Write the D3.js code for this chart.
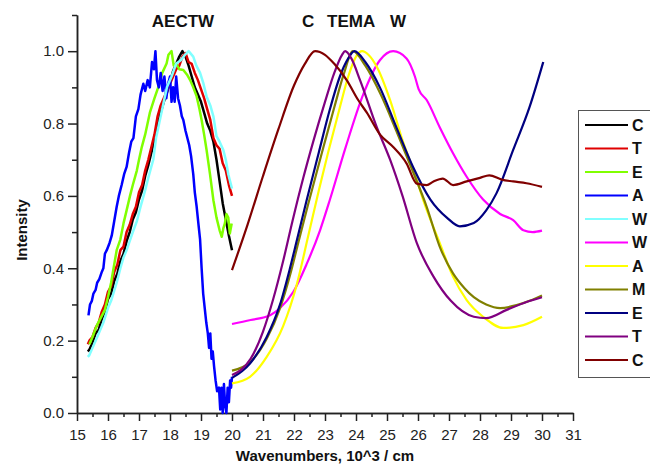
<!DOCTYPE html>
<html>
<head>
<meta charset="utf-8">
<script src="https://cdn.jsdelivr.net/npm/d3@7"></script>
<style>
  body { margin: 0; background: #fff; }
  svg { font-family: "Liberation Sans", Arial, sans-serif; }
</style>
</head>
<body>
<div id="chart"></div>
<script>
// legend order = draw order
const seriesNames = ['C', 'T', 'E', 'A', 'W', 'W', 'A', 'M', 'E', 'T', 'C'];
const seriesColors = ['#000000', '#e00000', '#80ff00', '#0000ff', '#80ffff',
  '#ff00ff', '#ffff00', '#808000', '#000080', '#800080', '#800000'];

const xMajor = [15, 16, 17, 18, 19, 20, 21, 22, 23, 24, 25, 26, 27, 28, 29, 30, 31];
const xMinor = [15.5, 16.5, 17.5, 18.5, 19.5, 20.5, 21.5, 22.5, 23.5, 24.5, 25.5, 26.5, 27.5, 28.5, 29.5, 30.5];
const yMajor = [0, 0.2, 0.4, 0.6, 0.8, 1.0];
const yMinor = [0.1, 0.3, 0.5, 0.7, 0.9, 1.1];

// left band (AECTW), wavenumber / intensity
const cLeft = [[15.35,0.17],[15.4,0.175],[15.5,0.195],[15.6,0.22],[15.7,0.23],[15.8,0.26],[15.9,0.28],[16.0,0.315],[16.1,0.33],[16.2,0.365],[16.3,0.385],[16.4,0.42],[16.5,0.44],[16.6,0.475],[16.7,0.50],[16.8,0.535],[16.9,0.555],[17.0,0.59],[17.1,0.615],[17.2,0.655],[17.3,0.685],[17.4,0.72],[17.5,0.755],[17.6,0.795],[17.7,0.83],[17.8,0.86],[17.9,0.885],[18.0,0.915],[18.1,0.945],[18.2,0.965],[18.3,0.985],[18.4,1.0],[18.5,0.985],[18.6,0.96],[18.7,0.93],[18.8,0.90],[18.9,0.88],[19.0,0.86],[19.1,0.83],[19.2,0.80],[19.3,0.78],[19.4,0.75],[19.5,0.70],[19.6,0.64],[19.7,0.58],[19.8,0.535],[19.9,0.49],[20.0,0.45]];
const tLeft = [[15.35,0.19],[15.4,0.20],[15.5,0.21],[15.6,0.235],[15.7,0.25],[15.8,0.28],[15.9,0.30],[16.0,0.335],[16.1,0.35],[16.2,0.39],[16.3,0.41],[16.4,0.45],[16.5,0.46],[16.6,0.50],[16.7,0.52],[16.8,0.55],[16.9,0.57],[17.0,0.61],[17.1,0.63],[17.2,0.67],[17.3,0.70],[17.4,0.735],[17.5,0.77],[17.6,0.82],[17.7,0.85],[17.8,0.87],[17.9,0.89],[18.0,0.91],[18.1,0.93],[18.2,0.95],[18.3,0.96],[18.4,0.985],[18.5,0.995],[18.6,0.97],[18.7,0.965],[18.8,0.94],[18.9,0.92],[19.0,0.895],[19.1,0.87],[19.2,0.84],[19.3,0.81],[19.4,0.76],[19.5,0.74],[19.6,0.73],[19.7,0.69],[19.8,0.67],[19.9,0.63],[20.0,0.60]];
const eLeft = [[15.4,0.19],[15.5,0.21],[15.63,0.24],[15.75,0.26],[15.9,0.285],[16.0,0.32],[16.1,0.36],[16.17,0.395],[16.28,0.45],[16.4,0.48],[16.5,0.524],[16.6,0.56],[16.71,0.60],[16.8,0.63],[16.93,0.67],[17.0,0.70],[17.09,0.735],[17.2,0.77],[17.35,0.83],[17.5,0.87],[17.62,0.90],[17.75,0.94],[17.89,0.966],[17.95,0.99],[18.05,1.0],[18.12,0.96],[18.2,0.966],[18.3,0.95],[18.43,0.948],[18.55,0.935],[18.65,0.92],[18.75,0.90],[18.86,0.875],[18.95,0.84],[19.02,0.81],[19.1,0.77],[19.18,0.727],[19.29,0.66],[19.4,0.588],[19.5,0.54],[19.6,0.505],[19.67,0.487],[19.72,0.51],[19.77,0.524],[19.82,0.55],[19.88,0.54],[19.93,0.496],[19.99,0.524]];
const aLeft = [[15.37,0.27],[15.42,0.30],[15.48,0.31],[15.53,0.33],[15.6,0.34],[15.65,0.36],[15.72,0.37],[15.8,0.39],[15.85,0.40],[15.9,0.44],[15.96,0.45],[16.05,0.47],[16.12,0.49],[16.2,0.53],[16.28,0.57],[16.35,0.60],[16.44,0.63],[16.52,0.66],[16.6,0.68],[16.68,0.72],[16.75,0.75],[16.82,0.76],[16.9,0.82],[16.98,0.84],[17.05,0.88],[17.14,0.91],[17.2,0.89],[17.28,0.92],[17.35,0.90],[17.42,0.97],[17.48,0.95],[17.53,1.0],[17.58,0.92],[17.64,0.90],[17.7,0.94],[17.76,0.89],[17.82,0.93],[17.88,0.87],[17.94,0.91],[18.0,0.93],[18.05,0.86],[18.1,0.90],[18.15,0.86],[18.2,0.93],[18.26,0.87],[18.32,0.85],[18.38,0.82],[18.43,0.81],[18.5,0.78],[18.56,0.76],[18.62,0.74],[18.68,0.71],[18.75,0.66],[18.8,0.61],[18.86,0.57],[18.92,0.52],[18.97,0.48],[19.02,0.40],[19.07,0.33],[19.12,0.29],[19.17,0.25],[19.22,0.22],[19.26,0.18],[19.3,0.22],[19.34,0.15],[19.38,0.17],[19.42,0.13],[19.47,0.09],[19.52,0.06],[19.58,0.07],[19.62,0.01],[19.66,0.07],[19.7,0.0],[19.74,0.08],[19.78,0.02],[19.82,0.0],[19.86,0.07],[19.9,0.03],[19.94,0.09],[19.97,0.07],[20.0,0.10]];
const wLeft = [[15.35,0.155],[15.4,0.16],[15.5,0.18],[15.6,0.20],[15.7,0.22],[15.85,0.25],[16.0,0.29],[16.1,0.31],[16.28,0.36],[16.4,0.40],[16.5,0.43],[16.6,0.45],[16.8,0.50],[16.93,0.53],[17.05,0.57],[17.2,0.616],[17.3,0.65],[17.46,0.70],[17.55,0.76],[17.65,0.80],[17.8,0.86],[17.9,0.90],[18.05,0.93],[18.2,0.966],[18.35,0.975],[18.48,0.99],[18.6,1.0],[18.75,0.985],[18.85,0.96],[18.97,0.94],[19.08,0.91],[19.18,0.875],[19.3,0.85],[19.4,0.82],[19.5,0.765],[19.6,0.75],[19.72,0.727],[19.8,0.70],[19.88,0.66],[20.0,0.62]];

// right band (C TEMA W)
const wRight = [[20.0,0.246],[20.6,0.257],[21.23,0.27],[21.55,0.29],[21.98,0.335],[22.4,0.41],[22.84,0.505],[23.16,0.59],[23.65,0.73],[24.23,0.88],[24.77,0.975],[25.2,1.0],[25.63,0.98],[25.9,0.93],[26.02,0.895],[26.28,0.865],[26.7,0.79],[27.13,0.718],[27.57,0.653],[28.1,0.59],[28.65,0.55],[29.07,0.533],[29.4,0.505],[29.7,0.50],[30.0,0.504]];
const aRight = [[20.0,0.082],[20.58,0.10],[21.12,0.155],[21.65,0.24],[22.09,0.355],[22.46,0.49],[22.8,0.615],[23.1,0.72],[23.48,0.845],[23.75,0.93],[24.0,0.985],[24.2,1.0],[24.4,0.99],[24.67,0.957],[25.1,0.865],[25.5,0.754],[25.96,0.644],[26.17,0.588],[26.7,0.47],[27.13,0.377],[27.57,0.312],[28.1,0.266],[28.75,0.235],[29.4,0.243],[30.0,0.266]];
const mRight = [[20.0,0.117],[20.58,0.14],[21.12,0.205],[21.55,0.29],[21.9,0.39],[22.15,0.475],[22.45,0.575],[22.95,0.735],[23.3,0.845],[23.6,0.935],[23.9,1.0],[24.3,0.96],[24.8,0.88],[25.3,0.78],[25.8,0.675],[26.28,0.57],[26.7,0.46],[27.13,0.386],[27.5,0.345],[27.8,0.32],[28.2,0.30],[28.65,0.29],[29.18,0.298],[29.6,0.31],[30.0,0.325]];
const eRight = [[20.0,0.097],[20.58,0.137],[21.12,0.21],[21.55,0.30],[21.87,0.40],[22.1,0.48],[22.4,0.585],[22.8,0.72],[23.16,0.84],[23.48,0.93],[23.75,0.98],[23.95,1.0],[24.3,0.97],[24.77,0.90],[25.3,0.79],[25.84,0.68],[26.4,0.59],[26.93,0.54],[27.35,0.516],[27.8,0.525],[28.2,0.56],[28.53,0.607],[29.07,0.727],[29.6,0.846],[30.04,0.97]];
const tRight = [[20.0,0.105],[20.3,0.12],[20.6,0.15],[21.0,0.225],[21.33,0.315],[21.65,0.42],[21.95,0.53],[22.3,0.65],[22.62,0.75],[23.0,0.86],[23.3,0.94],[23.55,0.99],[23.65,1.0],[23.85,0.98],[24.13,0.92],[24.67,0.79],[25.1,0.70],[25.5,0.60],[25.96,0.47],[26.5,0.377],[27.06,0.31],[27.8,0.266],[28.2,0.262],[28.86,0.285],[29.5,0.307],[30.0,0.32]];
const cRight = [[20.0,0.395],[20.5,0.52],[21.0,0.655],[21.5,0.785],[22.0,0.905],[22.35,0.965],[22.68,1.0],[23.0,0.99],[23.3,0.965],[23.7,0.92],[24.07,0.865],[24.35,0.83],[24.77,0.77],[25.2,0.735],[25.63,0.69],[25.96,0.634],[26.28,0.63],[26.5,0.64],[26.8,0.648],[27.13,0.63],[27.57,0.64],[28.0,0.65],[28.3,0.657],[28.7,0.645],[29.07,0.64],[29.5,0.635],[30.0,0.625]];

const seriesData = [cLeft, tLeft, eLeft, aLeft, wLeft, wRight, aRight, mRight, eRight, tRight, cRight];

const width = 650;
const height = 466;
const marginLeft = 77;
const marginTop = 15;
const plotRight = 573;
const plotBottom = 413;

const $svg = d3.select('#chart').append('svg')
  .attr('width', width)
  .attr('height', height);

const scaleX = d3.scaleLinear().domain([15, 31]).range([marginLeft, plotRight]);
const scaleY = d3.scaleLinear().domain([0, 1.1]).range([plotBottom, marginTop]);

// axes
const axisColor = '#222';
const $xMinor = $svg.append('g')
  .attr('transform', `translate(0,${plotBottom})`)
  .call(d3.axisBottom(scaleX).tickValues(xMinor).tickSize(4).tickSizeOuter(0).tickFormat(''));
const $xAxis = $svg.append('g')
  .attr('transform', `translate(0,${plotBottom})`)
  .call(d3.axisBottom(scaleX).tickValues(xMajor).tickSize(8).tickSizeOuter(0).tickPadding(8).tickFormat(d3.format('d')));
const $yMinor = $svg.append('g')
  .attr('transform', `translate(${marginLeft},0)`)
  .call(d3.axisLeft(scaleY).tickValues(yMinor).tickSize(5).tickSizeOuter(0).tickFormat(''));
const $yAxis = $svg.append('g')
  .attr('transform', `translate(${marginLeft},0)`)
  .call(d3.axisLeft(scaleY).tickValues(yMajor).tickSize(9).tickSizeOuter(0).tickPadding(4).tickFormat(d3.format('.1f')));

[$xMinor, $xAxis, $yMinor, $yAxis].forEach($g => {
  $g.selectAll('path, line').attr('stroke', axisColor).attr('stroke-width', 1.5);
  $g.selectAll('text').attr('fill', axisColor).style('font-size', '15px').style('font-family', '"Liberation Sans", Arial, sans-serif');
});

// lines: raw spectra on the left, smooth bands on the right
const line = d3.line().x(d => scaleX(d[0])).y(d => scaleY(d[1]));
const smooth = d3.line().x(d => scaleX(d[0])).y(d => scaleY(d[1])).curve(d3.curveMonotoneX);

const $vis = $svg.append('g').attr('class', 'g-vis');
$vis.selectAll('.path__series')
  .data(seriesData)
  .enter()
  .append('path')
  .attr('class', 'path__series')
  .attr('fill', 'none')
  .attr('stroke', (d, i) => seriesColors[i])
  .attr('stroke-width', (d, i) => i < 5 ? 2.5 : 2.2)
  .attr('stroke-linejoin', 'round')
  .attr('d', (d, i) => i < 5 ? line(d) : smooth(d));

// band labels
const titleStyle = $t => $t.attr('font-weight', 'bold').style('font-size', '17px').attr('fill', '#111');
$svg.append('text').attr('x', 183).attr('y', 27).attr('text-anchor', 'middle').text('AECTW').call(titleStyle);
$svg.append('text').attr('x', 302).attr('y', 27).text('C').call(titleStyle);
$svg.append('text').attr('x', 327).attr('y', 27).text('TEMA').call(titleStyle);
$svg.append('text').attr('x', 390).attr('y', 27).text('W').call(titleStyle);

// axis titles
$svg.append('text')
  .attr('transform', `translate(27,230) rotate(-90)`)
  .attr('text-anchor', 'middle')
  .attr('font-weight', 'bold')
  .style('font-size', '15px')
  .attr('fill', '#111')
  .text('Intensity');
$svg.append('text')
  .attr('x', 325)
  .attr('y', 461)
  .attr('text-anchor', 'middle')
  .attr('font-weight', 'bold')
  .style('font-size', '15px')
  .attr('fill', '#111')
  .text('Wavenumbers, 10^3 / cm');

// legend
const legendTop = 125;
const legendStep = 23.5;
const $legend = $svg.append('g').attr('class', 'g-legend');
$legend.append('rect')
  .attr('x', 578.5).attr('y', 110.5)
  .attr('width', 90).attr('height', 267)
  .attr('fill', '#fff')
  .attr('stroke', '#555')
  .attr('stroke-width', 1);
const $items = $legend.selectAll('.legend__item')
  .data(seriesNames)
  .enter()
  .append('g')
  .attr('class', 'legend__item')
  .attr('transform', (d, i) => `translate(0,${legendTop + i * legendStep})`);
$items.append('line')
  .attr('x1', 585).attr('x2', 628)
  .attr('stroke', (d, i) => seriesColors[i])
  .attr('stroke-width', 2.2);
$items.append('text')
  .attr('x', 632).attr('y', 5.5)
  .attr('font-weight', 'bold')
  .style('font-size', '16px')
  .attr('fill', '#111')
  .text(d => d);
</script>
</body>
</html>
